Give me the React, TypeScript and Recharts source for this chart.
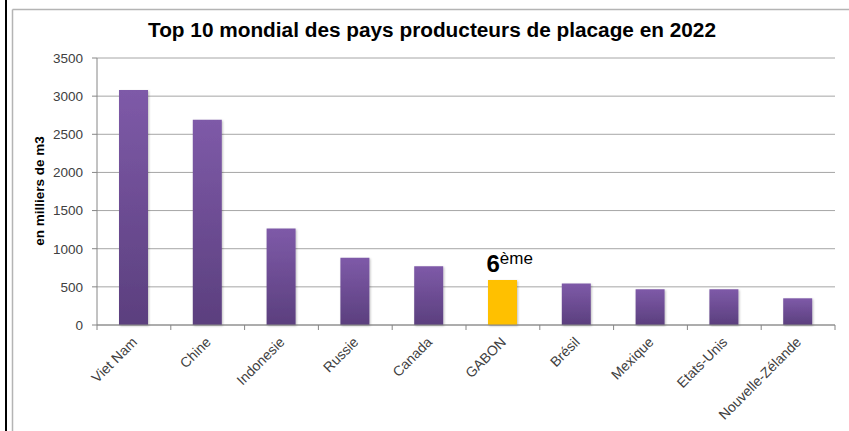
import React from 'react';
import { BarChart, Bar, XAxis, YAxis, CartesianGrid, Cell, LabelList } from 'recharts';

const countries = [
  'Viet Nam',
  'Chine',
  'Indonesie',
  'Russie',
  'Canada',
  'GABON',
  'Brésil',
  'Mexique',
  'Etats-Unis',
  'Nouvelle-Zélande',
];
const production = [3080, 2690, 1265, 880, 770, 590, 545, 470, 470, 350];
const yTicks = [0, 500, 1000, 1500, 2000, 2500, 3000, 3500];
const highlighted = 'GABON';
const rankNumber = '6';
const rankSuffix = 'ème';
const title = 'Top 10 mondial des pays producteurs de placage en 2022';
const yLabel = 'en milliers de m3';

const data = countries.map((name, i) => ({
  name,
  value: production[i],
  rank: name === highlighted ? rankNumber : '',
}));

const FONT = '"Liberation Sans", Arial, sans-serif';
const AXIS = '#868686';
const TEXT = '#404040';

const CategoryTick = (props: any) => {
  const { x, y, payload, index } = props;
  const half = payload && payload.offset ? payload.offset : 36.9;
  const isLast = index === countries.length - 1 || payload.value === countries[countries.length - 1];
  const tx = x + 4;
  const ty = y + 13;
  return (
    <g>
      <line x1={x - half} y1={y - 5} x2={x - half} y2={y} stroke={AXIS} />
      {isLast && <line x1={x + half} y1={y - 5} x2={x + half} y2={y} stroke={AXIS} />}
      <text
        x={tx}
        y={ty}
        textAnchor="end"
        transform={`rotate(-45 ${tx} ${ty})`}
        fontSize={14}
        fontFamily={FONT}
        fill={TEXT}
      >
        {payload.value}
      </text>
    </g>
  );
};

const RankLabel = (props: any) => {
  const { x, y, value } = props;
  if (!value) return null;
  return (
    <text x={x - 1.5} y={y - 8} fontFamily={FONT} fill="#000">
      <tspan fontSize={24} fontWeight="bold">{value}</tspan>
      <tspan fontSize={17} dy={-8}>{rankSuffix}</tspan>
    </text>
  );
};

export default function App() {
  return (
    <div style={{ position: 'relative', width: 849, height: 431, background: '#fff' }}>
      <style>{'body{margin:0}'}</style>
      <BarChart
        width={849}
        height={431}
        data={data}
        margin={{ top: 58, right: 14, left: 57, bottom: 16 }}
      >
        <defs>
          <linearGradient id="purpleBar" x1="0" y1="0" x2="0" y2="1">
            <stop offset="0%" stopColor="#7E5AA8" />
            <stop offset="100%" stopColor="#5B3F7E" />
          </linearGradient>
          <filter id="barShadow" x="-20%" y="-5%" width="140%" height="110%">
            <feDropShadow dx="1" dy="1" stdDeviation="1" floodColor="#000" floodOpacity="0.25" />
          </filter>
        </defs>
        <CartesianGrid vertical={false} stroke="#a6a6a6" />
        <XAxis
          dataKey="name"
          interval={0}
          height={90}
          tickSize={5}
          tickMargin={0}
          tickLine={false}
          axisLine={{ stroke: AXIS }}
          tick={<CategoryTick />}
        />
        <YAxis
          width={40}
          domain={[0, 3500]}
          ticks={yTicks}
          tickSize={5}
          tickMargin={9}
          axisLine={{ stroke: AXIS }}
          tickLine={{ stroke: AXIS }}
          tick={{ fontSize: 13.5, fill: TEXT, fontFamily: FONT }}
        />
        <Bar dataKey="value" barSize={29} isAnimationActive={false} filter="url(#barShadow)">
          {data.map((d) => (
            <Cell key={d.name} fill={d.name === highlighted ? '#FFC000' : 'url(#purpleBar)'} />
          ))}
          <LabelList dataKey="rank" content={<RankLabel />} />
        </Bar>
      </BarChart>
      <svg
        width={849}
        height={431}
        style={{ position: 'absolute', left: 0, top: 0, pointerEvents: 'none' }}
      >
        <rect x={5} y={0} width={2} height={431} fill="#000" />
        <line x1={12.5} y1={9.5} x2={849} y2={9.5} stroke="#b4b4b4" strokeWidth={1.5} />
        <line x1={12.5} y1={9.5} x2={12.5} y2={431} stroke="#b4b4b4" strokeWidth={1.5} />
        <text
          x={148}
          y={37}
          fontSize={19.5}
          fontWeight="bold"
          fontFamily={FONT}
          fill="#000"
          textLength={568}
          lengthAdjust="spacingAndGlyphs"
        >
          {title}
        </text>
        <text
          x={44}
          y={191}
          fontSize={13.5}
          fontWeight="bold"
          fontFamily={FONT}
          fill="#000"
          textAnchor="middle"
          transform="rotate(-90 44 191)"
        >
          {yLabel}
        </text>
      </svg>
    </div>
  );
}
